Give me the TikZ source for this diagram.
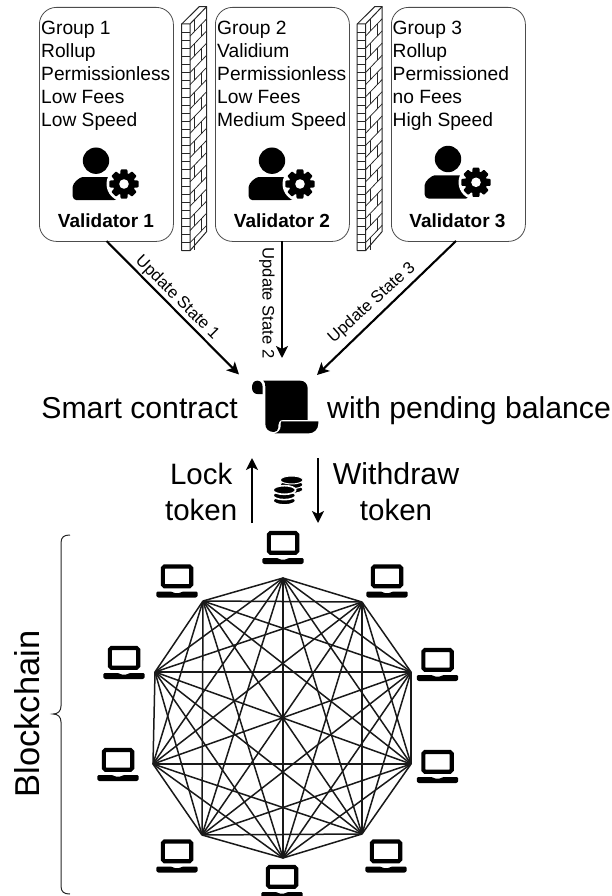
\documentclass[tikz,border=0pt]{standalone}
\usepackage{fontspec}
\setmainfont{Liberation Sans}
\usetikzlibrary{arrows.meta}
\tikzset{
  x=1pt,y=-1pt,
  vbox/.style={draw=black!70,line width=0.8pt,rounded corners=17pt,minimum width=134pt,minimum height=234pt,inner sep=0pt,anchor=north west},
  gtext/.style={anchor=north west,inner sep=0pt,align=left,font=\fontsize{19.2}{23}\selectfont},
  vname/.style={inner sep=0pt,font=\fontsize{19}{23}\selectfont\bfseries},
  big/.style={inner sep=0pt,font=\fontsize{30.2}{37}\selectfont},
  bigc/.style={inner sep=0pt,align=center,font=\fontsize{29.5}{36}\selectfont},
  upd/.style={inner sep=0pt,font=\fontsize{16.6}{20}\selectfont},
  arr/.style={line width=2.1pt,-{Stealth[length=12pt,width=12pt,inset=3pt]}},
  edge/.style={line width=1.5pt,draw=black!90},
  wallline/.style={draw=black!85,line width=0.75pt},
  laptop/.pic={
    \draw[line width=4.1pt,rounded corners=1.6pt] (-14.2,2) rectangle (14.2,21.7);
    \fill[rounded corners=1.2pt] (-20.7,27) -- (-5,27) -- (-3,28.6) -- (3,28.6) -- (5,27) -- (20.7,27) -- (20.7,30) .. controls (20.7,32) and (19,33) .. (17.5,33) -- (-17.5,33) .. controls (-19,33) and (-20.7,32) .. (-20.7,30) -- cycle;
  },
  brickwall/.pic={
    \def\wh{226.7}
    \draw[wallline,line width=1pt,line join=round] (0,0) -- (17.6,-17.4) -- (25,-17.4) -- (25,207.5) -- (8.3,\wh) -- (0,\wh) -- cycle;
    \draw[wallline,line width=1pt] (8.3,0) -- (25,-17.4) (8.3,0) -- (0,0) (8.3,0) -- (8.3,\wh);
    \foreach \i in {1,...,27}{
      \pgfmathsetmacro\yy{\i*8.1}
      \draw[wallline] (0,\yy) -- (8.3,\yy);
    }
    \foreach \i in {1,...,18}{
      \pgfmathsetmacro\yy{\i*12.15}
      \draw[wallline] (8.3,\yy) -- (25,\yy-17.4);
    }
    \foreach \i in {0,...,18}{
      \pgfmathsetmacro\tx{mod(\i,2)==0 ? 13 : 20}
      \pgfmathsetmacro\ty{\i*12.15-(\tx-8.3)*1.04}
      \draw[wallline] (\tx,\ty) -- (\tx,\ty+12.15);
    }
  },
  operator/.pic={
    \fill (0,0) circle (13.2);
    \fill[rounded corners=4pt] (-23.3,39.5) -- (-23.3,30) .. controls (-23.3,22) and (-16,16.5) .. (-10,16.5) -- (10,16.5) .. controls (16,16.5) and (20,19) .. (22,24) -- (22,39.5) -- cycle;
    \fill[white] (28,23.3) circle (17.5);
    \fill (28,23.3) circle (11.2);
    \foreach \a in {0,45,...,315}{
      \fill[rotate around={\a:(28,23.3)},rounded corners=0.8pt] (23.6,23.3) -- (24.6,8.7) -- (31.4,8.7) -- (32.4,23.3) -- cycle;
    }
    \fill[white] (28,23.3) circle (4.8);
  },
}
\begin{document}
\begin{tikzpicture}
\useasboundingbox (0,0) rectangle (612,896);
% boxes
\node[vbox] (box1) at (39,7) {};
\node[vbox] (box2) at (215,7) {};
\node[vbox] (box3) at (391,7) {};
\node[gtext] (g1) at (41,20.5) {Group 1\\Rollup\\Permissionless\\Low Fees\\Low Speed};
\node[gtext] (g2) at (217,20.5) {Group 2\\Validium\\Permissionless\\Low Fees\\Medium Speed};
\node[gtext] (g3) at (392.5,20.5) {Group 3\\Rollup\\Permissioned\\no Fees\\High Speed};
\pic at (96,160.7) {operator};
\pic at (272,160.7) {operator};
\pic at (448,159) {operator};
\node[vname] (n1) at (106,221) {Validator 1};
\node[vname] (n2) at (282,221) {Validator 2};
\node[vname] (n3) at (457.5,220.5) {Validator 3};
% walls
\pic at (181.7,24) {brickwall};
\pic at (357.2,24) {brickwall};
% contract
\coordinate (in1) at (239,374.5);
\coordinate (in2) at (282,358);
\coordinate (in3) at (317,375);
\coordinate (out1) at (106.5,241);
\coordinate (out2) at (282,241);
\coordinate (out3) at (456,241);
\draw[arr] (out1) -- (in1);
\draw[arr] (out2) -- (in2);
\draw[arr] (out3) -- (in3);
\node[upd,rotate=-45] (u1) at (177,298) {Update State 1};
\node[upd,rotate=-90] (u2) at (267,303) {Update State 2};
\node[upd,rotate=42] (u3) at (372,303) {Update State 3};
\node[big,anchor=base east] (sc) at (238,418) {Smart contract};
\node[big,anchor=base west] (pb) at (327,418) {with pending balance};
% scroll
\begin{scope}[shift={(150,370)},scale=0.3333]
  \fill (338,72) -- (322,72) .. controls (312,72) and (306,64) .. (306,52) .. controls (306,40) and (312,32) .. (322,32) .. controls (332,32) and (338,40) .. (338,52) -- cycle;
  \fill (340,32) -- (450,32) .. controls (464,32) and (473,42) .. (473,55) -- (473,150) -- (398,150) .. controls (388,150) and (385,158) .. (385,172) .. controls (385,180) and (380,186) .. (372,186) .. controls (356,186) and (346,176) .. (346,162) -- (346,50) .. controls (346,42) and (345,36) .. (340,32) -- cycle;
  \fill (394,154) -- (505,154) -- (505,160) .. controls (505,178) and (492,190) .. (476,190) -- (374,190) .. controls (386,188) and (392,178) .. (392,168) .. controls (392,162) and (392,158) .. (394,154) -- cycle;
\end{scope}
% lock/withdraw
\coordinate (l1) at (252,523);
\coordinate (l2) at (252,458);
\coordinate (w1) at (318,458);
\coordinate (w2) at (318,523);
\draw[arr] (l1) -- (l2);
\draw[arr] (w1) -- (w2);
\node[bigc,anchor=east] (lt) at (237.5,491.5) {Lock\\token};
\node[bigc] (wt) at (396,491.5) {\fontsize{30.3}{36}\selectfont Withdraw\\token};
% coins
\begin{scope}[shift={(150,370)},scale=0.3333]
  \foreach \yy in {358,344,330}{\fill[draw=white,line width=1pt] (425,\yy) ellipse (34 and 12);}
  \foreach \yy in {392,376,360}{\fill[draw=white,line width=1.6pt] (403,\yy) ellipse (34 and 13);}
\end{scope}
% network
\coordinate (v1) at (283,578);
\coordinate (v2) at (362,602);
\coordinate (v3) at (411,672);
\coordinate (v4) at (411,764);
\coordinate (v5) at (362,834);
\coordinate (v6) at (283,858);
\coordinate (v7) at (202,835);
\coordinate (v8) at (153,764);
\coordinate (v9) at (155,672);
\coordinate (v10) at (203,601);
\foreach \i in {1,...,9}{
  \pgfmathtruncatemacro\st{\i+1}
  \foreach \j in {\st,...,10}{
    \draw[edge] (v\i) -- (v\j);
  }
}
\pic at (283,531) {laptop};
\pic at (177,564.5) {laptop};
\pic at (387,564.5) {laptop};
\pic at (124,646) {laptop};
\pic at (437.5,648) {laptop};
\pic at (118,748) {laptop};
\pic at (437.5,750) {laptop};
\pic at (177,839.5) {laptop};
\pic at (386,839.5) {laptop};
\pic at (282,865) {laptop};
% brace
\coordinate (b1) at (70,535);
\coordinate (b2) at (53,714);
\coordinate (b3) at (70,894);
\draw[line width=1pt,draw=black!85] (b1) .. controls (64,535) and (61,537) .. (61,543) -- (61,706) .. controls (61,711) and (58,714) .. (b2) .. controls (58,714) and (61,717) .. (61,722) -- (61,886) .. controls (61,892) and (64,894) .. (b3);
\node[rotate=90,inner sep=0pt,font=\fontsize{34.5}{40}\selectfont] (bc) at (27,714) {Blockchain};
\end{tikzpicture}
\end{document}
